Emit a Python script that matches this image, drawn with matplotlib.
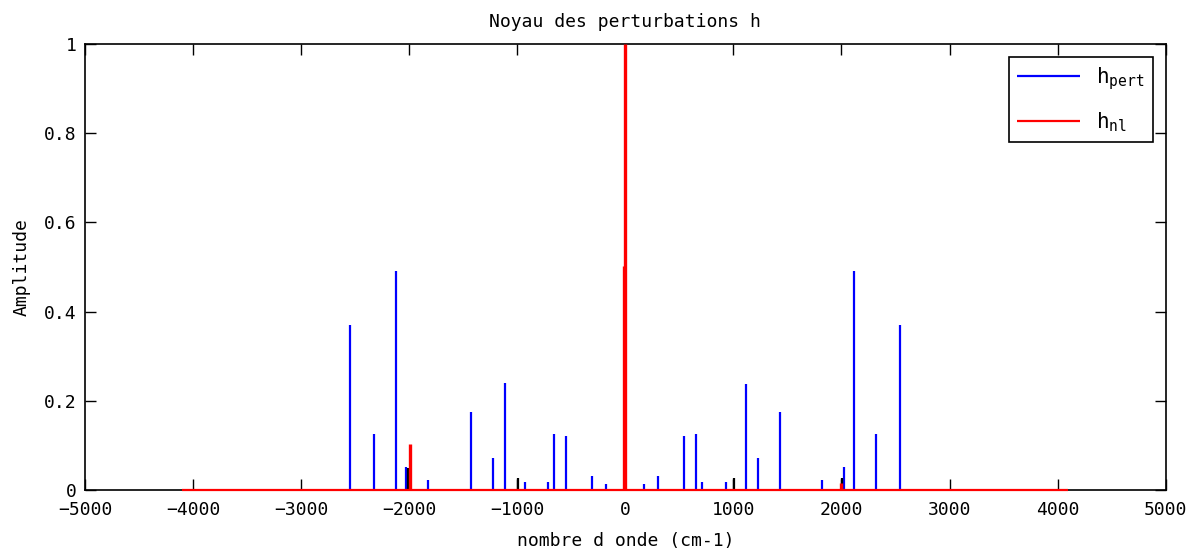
import matplotlib.pyplot as plt

# Noyau des perturbations : spectre symetrique (nombre d'onde en cm-1)
pert_pos = [-2544, -2323, -2119, -2027, -1823, -1432, -1229, -1118, -933, -712, -656, -545, -305, -176,
            173, 305, 545, 656, 712, 933, 1118, 1229, 1432, 1821, 2024, 2116, 2323, 2541]
pert_amp = [0.370, 0.126, 0.492, 0.052, 0.022, 0.176, 0.072, 0.239, 0.017, 0.017, 0.126, 0.122, 0.031, 0.013,
            0.013, 0.031, 0.121, 0.126, 0.017, 0.017, 0.238, 0.071, 0.176, 0.022, 0.052, 0.492, 0.126, 0.370]

# composantes supplementaires (en noir)
autre_pos = [-2012, -989, 1007, 2009]
autre_amp = [0.049, 0.027, 0.026, 0.027]

# noyau non lineaire
nl_pos = [-1991, -14, 0, 1993]
nl_amp = [0.103, 0.502, 1.0, 0.015]
nl_min, nl_max = -4100, 4100

plt.rcParams['font.family'] = 'DejaVu Sans Mono'
plt.rcParams['mathtext.fontset'] = 'custom'
plt.rcParams['mathtext.rm'] = 'DejaVu Sans Mono'
plt.rcParams['mathtext.it'] = 'DejaVu Sans Mono'
plt.rcParams['mathtext.default'] = 'rm'

fig = plt.figure(figsize=(11.98, 5.54), dpi=100)
ax = fig.add_axes([0.071, 0.1155, 0.902, 0.805])

ax.vlines(pert_pos, 0, pert_amp, color='blue', lw=1.6, label=r'h$_{pert}$')
ax.vlines(autre_pos, 0, autre_amp, color='black', lw=1.6)
ax.hlines(0, nl_min, nl_max, color='red', lw=1.6, label=r'h$_{nl}$', zorder=4, clip_on=False)
ax.vlines(nl_pos, 0, nl_amp, color='red', lw=2.4, zorder=4)

ax.set_xlim(-5000, 5000)
ax.set_ylim(0, 1)
ax.set_xticks(range(-5000, 5001, 1000))
ax.set_yticks([0, 0.2, 0.4, 0.6, 0.8, 1])
ax.set_yticklabels(['0', '0.2', '0.4', '0.6', '0.8', '1'])
ax.tick_params(direction='in', length=8, width=1, top=True, right=True, labelsize=13)
ax.tick_params(axis='x', pad=8)
ax.tick_params(axis='y', pad=6)
for s in ax.spines.values():
    s.set_linewidth(1.2)

ax.set_title('Noyau des perturbations h', fontsize=13, pad=12)
ax.set_xlabel('nombre d onde (cm-1)', fontsize=13, labelpad=9)
ax.set_ylabel('Amplitude', fontsize=13, labelpad=10)

leg = ax.legend(loc='upper right', fontsize=15, handlelength=3.0, fancybox=False,
                framealpha=1, edgecolor='black', borderaxespad=0.6, labelspacing=0.9)
leg.get_frame().set_linewidth(1.2)

fig.savefig('out.png', dpi=100)
